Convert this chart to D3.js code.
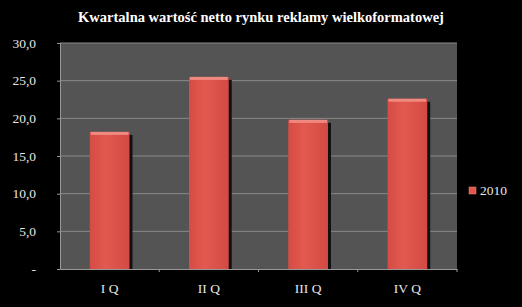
<!DOCTYPE html>
<html>
<head>
<meta charset="utf-8">
<script src="https://cdn.jsdelivr.net/npm/d3@7"></script>
<style>
  body { margin: 0; background: #000; }
  svg { display: block; }
</style>
</head>
<body>
<div id="chart"></div>
<script>
// quarters and 2010 values
const quarters = ["I Q", "II Q", "III Q", "IV Q"];
const values2010 = [18.2, 25.5, 19.8, 22.6];
const yTicks = [0, 5, 10, 15, 20, 25, 30];
const yTickLabels = ["-", "5,0", "10,0", "15,0", "20,0", "25,0", "30,0"];
const seriesName = "2010";

const W = 522, H = 307;
const margin = {top: 43, right: 65, bottom: 38, left: 60},
    width = W - margin.left - margin.right,
    height = H - margin.top - margin.bottom;

const svg = d3.select("#chart")
    .append("svg")
    .attr("width", W).attr("height", H);

svg.append("rect").attr("width", W).attr("height", H).attr("fill", "#000");

const defs = svg.append("defs");
const grad = defs.append("linearGradient").attr("id", "barGrad")
    .attr("x1", 0).attr("x2", 1).attr("y1", 0).attr("y2", 0);
grad.append("stop").attr("offset", "0%").attr("stop-color", "#d64c45");
grad.append("stop").attr("offset", "40%").attr("stop-color", "#e2594f");
grad.append("stop").attr("offset", "100%").attr("stop-color", "#d24a43");

svg.append("text")
    .attr("x", 261).attr("y", 22)
    .attr("text-anchor", "middle")
    .attr("fill", "#fff")
    .style("font-family", "'Liberation Serif', serif")
    .style("font-weight", "bold")
    .style("font-size", "14.5px")
    .text("Kwartalna wartość netto rynku reklamy wielkoformatowej");

const g = svg.append("g")
    .attr("transform", `translate(${margin.left},${margin.top})`);

const x = d3.scaleBand()
    .domain(quarters)
    .range([0, width])
    .padding(0);

const y = d3.scaleLinear()
    .domain([0, 30])
    .range([height, 0]);

// plot background
g.append("rect")
    .attr("width", width).attr("height", height)
    .attr("fill", "#545454");

// gridlines
g.selectAll(".grid")
    .data(yTicks.filter(d => d > 0))
    .join("line")
    .attr("x1", 0).attr("x2", width)
    .attr("y1", d => y(d)).attr("y2", d => y(d))
    .attr("stroke", "#8a8a8a").attr("stroke-width", 1);

// bars
const bw = x.bandwidth() * 0.4;
const bars = g.selectAll(".bar")
    .data(quarters.map((q, i) => ({q, v: values2010[i]})))
    .join("g");

bars.append("rect")
    .attr("x", d => x(d.q) + (x.bandwidth() - bw) / 2 + 3)
    .attr("y", d => y(d.v) + 3)
    .attr("width", bw)
    .attr("height", d => height - y(d.v) - 3)
    .attr("fill", "#111");

bars.append("rect")
    .attr("x", d => x(d.q) + (x.bandwidth() - bw) / 2)
    .attr("y", d => y(d.v))
    .attr("width", bw)
    .attr("height", d => height - y(d.v))
    .attr("fill", "url(#barGrad)");

bars.append("rect")
    .attr("x", d => x(d.q) + (x.bandwidth() - bw) / 2 + 1)
    .attr("y", d => y(d.v))
    .attr("width", bw - 2)
    .attr("height", 3)
    .attr("fill", "#f08a80");

// y axis
const yAxis = g.append("g")
    .call(d3.axisLeft(y).tickValues(yTicks).tickSize(3)
        .tickFormat((d, i) => yTickLabels[i]));
yAxis.select(".domain").attr("stroke", "#999");
yAxis.selectAll(".tick line").attr("stroke", "#999");
yAxis.selectAll("text")
    .attr("x", -24)
    .attr("fill", "#e6e6e6")
    .style("text-anchor", "end")
    .style("font-family", "'Liberation Serif', serif")
    .style("font-size", "13.5px");

// x axis
const xAxis = g.append("g")
    .attr("transform", `translate(0,${height})`)
    .call(d3.axisBottom(x).tickSize(0).tickPadding(14));
xAxis.select(".domain").attr("stroke", "#999");
xAxis.selectAll("text")
    .attr("fill", "#e6e6e6")
    .style("font-family", "'Liberation Serif', serif")
    .style("font-size", "13.5px");

// category boundary ticks
g.selectAll(".xtick")
    .data(quarters)
    .join("line")
    .attr("x1", d => x(d) + x.bandwidth()).attr("x2", d => x(d) + x.bandwidth())
    .attr("y1", height).attr("y2", height + 3)
    .attr("stroke", "#999");

// legend
const legend = svg.append("g").attr("transform", "translate(469,187)");
legend.append("rect")
    .attr("width", 7).attr("height", 7)
    .attr("fill", "#e0554c").attr("stroke", "#f08a80").attr("stroke-width", 0.5);
legend.append("text")
    .attr("x", 11).attr("y", 8)
    .attr("fill", "#e6e6e6")
    .style("font-family", "'Liberation Serif', serif")
    .style("font-size", "13.5px")
    .text(seriesName);
</script>
</body>
</html>
